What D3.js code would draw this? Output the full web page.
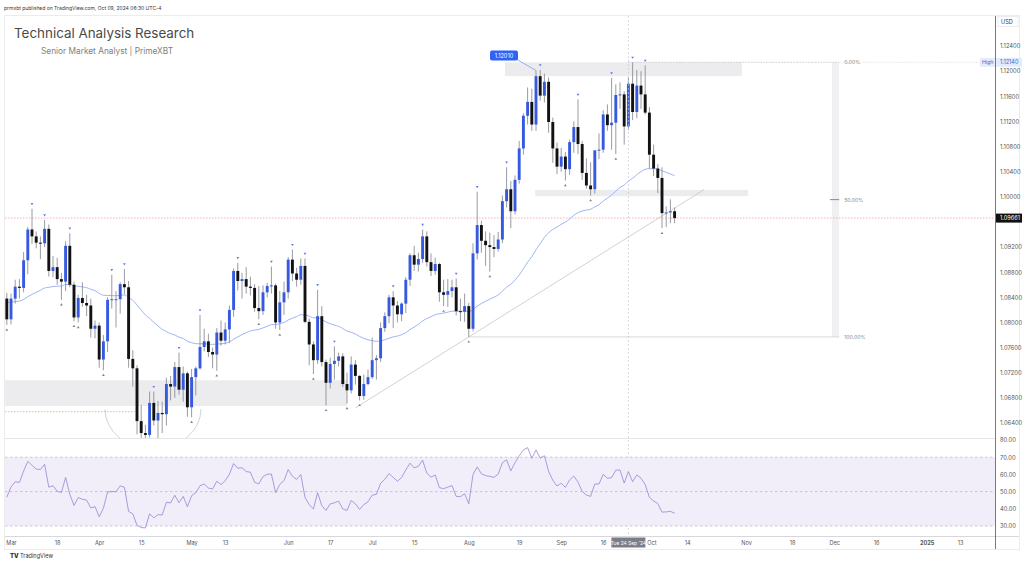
<!DOCTYPE html>
<html><head><meta charset="utf-8">
<script src="https://cdn.jsdelivr.net/npm/d3@7"></script>
<style>
body{margin:0;background:#fff;}
svg{display:block;font-family:Inter,"Noto Sans",Roboto,sans-serif;}
</style></head>
<body><svg id="c" width="1024" height="563"></svg>
<script>
// ---------- DATA (EUR/USD daily) ----------
const dates = ["02-29","03-01","03-04","03-05","03-06","03-07","03-08","03-11","03-12","03-13","03-14","03-15","03-18","03-19","03-20","03-21","03-22","03-25","03-26","03-27","03-28","03-29","04-01","04-02","04-03","04-04","04-05","04-08","04-09","04-10","04-11","04-12","04-15","04-16","04-17","04-18","04-19","04-22","04-23","04-24","04-25","04-26","04-29","04-30","05-01","05-02","05-03","05-06","05-07","05-08","05-09","05-10","05-13","05-14","05-15","05-16","05-17","05-20","05-21","05-22","05-23","05-24","05-27","05-28","05-29","05-30","05-31","06-03","06-04","06-05","06-06","06-07","06-10","06-11","06-12","06-13","06-14","06-17","06-18","06-19","06-20","06-21","06-24","06-25","06-26","06-27","06-28","07-01","07-02","07-03","07-04","07-05","07-08","07-09","07-10","07-11","07-12","07-15","07-16","07-17","07-18","07-19","07-22","07-23","07-24","07-25","07-26","07-29","07-30","07-31","08-01","08-02","08-05","08-06","08-07","08-08","08-09","08-12","08-13","08-14","08-15","08-16","08-19","08-20","08-21","08-22","08-23","08-26","08-27","08-28","08-29","08-30","09-02","09-03","09-04","09-05","09-06","09-09","09-10","09-11","09-12","09-13","09-16","09-17","09-18","09-19","09-20","09-23","09-24","09-25","09-26","09-27","09-30","10-01","10-02","10-03","10-04","10-07","10-08","10-09"];
const open = [1.0838,1.0805,1.0838,1.0857,1.0855,1.0899,1.0948,1.0937,1.0927,1.0926,
1.0949,1.0882,1.0888,1.0869,1.0865,1.0922,1.0860,1.0808,1.0839,1.0831,
1.0827,1.0790,1.0795,1.0741,1.0770,1.0836,1.0837,1.0837,1.0861,1.0856,
1.0742,1.0727,1.0643,1.0624,1.0621,1.0672,1.0644,1.0656,1.0654,1.0702,
1.0698,1.0729,1.0693,1.0719,1.0665,1.0713,1.0727,1.0761,1.0770,1.0753,
1.0749,1.0784,1.0771,1.0789,1.0820,1.0882,1.0866,1.0869,1.0857,1.0855,
1.0823,1.0818,1.0848,1.0858,1.0859,1.0800,1.0832,1.0848,1.0900,1.0878,
1.0868,1.0890,1.0801,1.0765,1.0740,1.0810,1.0737,1.0704,1.0734,1.0739,
1.0746,1.0702,1.0692,1.0733,1.0715,1.0683,1.0702,1.0713,1.0740,1.0743,
1.0791,1.0810,1.0840,1.0827,1.0813,1.0830,1.0868,1.0907,1.0892,1.0901,
1.0937,1.0896,1.0882,1.0893,1.0848,1.0844,1.0850,1.0856,1.0818,1.0817,
1.0826,1.0790,1.0910,1.0955,1.0930,1.0923,1.0920,1.0917,1.0932,1.0993,
1.1012,1.0977,1.1027,1.1077,1.1129,1.1151,1.1115,1.1192,1.1161,1.1183,
1.1119,1.1077,1.1048,1.1064,1.1044,1.1087,1.1111,1.1084,1.1038,1.1018,
1.1012,1.1074,1.1075,1.1131,1.1114,1.1118,1.1162,1.1163,1.1112,1.1180,
1.1135,1.1177,1.1163,1.1134,1.1067,1.1045,1.1030,1.0974,1.0975,1.0977];
const high = [1.0847,1.0846,1.0868,1.0869,1.0912,1.0952,1.0981,1.0945,1.0937,1.0963,
1.0956,1.0906,1.0903,1.0879,1.0929,1.0942,1.0865,1.0844,1.0864,1.0844,
1.0838,1.0803,1.0800,1.0780,1.0840,1.0876,1.0850,1.0864,1.0885,1.0866,
1.0756,1.0732,1.0669,1.0637,1.0690,1.0690,1.0675,1.0674,1.0712,1.0715,
1.0737,1.0752,1.0730,1.0722,1.0726,1.0730,1.0812,1.0790,1.0782,1.0760,
1.0791,1.0803,1.0800,1.0827,1.0886,1.0895,1.0879,1.0888,1.0873,1.0861,
1.0858,1.0859,1.0863,1.0889,1.0862,1.0850,1.0865,1.0904,1.0916,1.0887,
1.0902,1.0902,1.0806,1.0770,1.0852,1.0826,1.0741,1.0744,1.0762,1.0752,
1.0751,1.0720,1.0746,1.0740,1.0716,1.0717,1.0725,1.0776,1.0748,1.0800,
1.0816,1.0844,1.0850,1.0834,1.0832,1.0872,1.0910,1.0922,1.0911,1.0948,
1.0945,1.0910,1.0903,1.0895,1.0868,1.0869,1.0868,1.0870,1.0838,1.0846,
1.0831,1.0926,1.1008,1.0962,1.0945,1.0943,1.0939,1.0944,1.1002,1.1047,
1.1025,1.1034,1.1089,1.1133,1.1174,1.1172,1.1201,1.1202,1.1196,1.1190,
1.1126,1.1086,1.1078,1.1071,1.1091,1.1120,1.1155,1.1089,1.1061,1.1055,
1.1073,1.1101,1.1138,1.1147,1.1189,1.1179,1.1182,1.1168,1.1190,1.1214,
1.1202,1.1200,1.1209,1.1143,1.1083,1.1052,1.1047,1.0985,1.0996,1.0983];
const low = [1.0796,1.0797,1.0830,1.0838,1.0848,1.0877,1.0925,1.0918,1.0901,1.0920,
1.0873,1.0872,1.0860,1.0836,1.0850,1.0856,1.0802,1.0800,1.0825,1.0810,
1.0776,1.0775,1.0728,1.0724,1.0753,1.0822,1.0792,1.0814,1.0845,1.0728,
1.0698,1.0622,1.0615,1.0601,1.0617,1.0636,1.0610,1.0624,1.0636,1.0676,
1.0680,1.0685,1.0674,1.0650,1.0649,1.0684,1.0725,1.0754,1.0745,1.0727,
1.0723,1.0763,1.0765,1.0767,1.0809,1.0851,1.0838,1.0846,1.0843,1.0817,
1.0805,1.0812,1.0840,1.0846,1.0790,1.0788,1.0812,1.0838,1.0866,1.0857,
1.0860,1.0799,1.0732,1.0718,1.0734,1.0730,1.0668,1.0695,1.0709,1.0730,
1.0697,1.0671,1.0687,1.0701,1.0676,1.0677,1.0700,1.0710,1.0709,1.0737,
1.0785,1.0799,1.0791,1.0800,1.0802,1.0815,1.0858,1.0882,1.0881,1.0895,
1.0889,1.0874,1.0876,1.0833,1.0826,1.0825,1.0840,1.0811,1.0802,1.0801,
1.0777,1.0786,1.0900,1.0911,1.0890,1.0881,1.0904,1.0913,1.0926,1.0983,
1.0950,1.0972,1.1021,1.1067,1.1115,1.1105,1.1105,1.1153,1.1150,1.1102,
1.1054,1.1036,1.1040,1.1026,1.1035,1.1070,1.1068,1.1027,1.1013,1.1002,
1.1005,1.1060,1.1070,1.1105,1.1075,1.1068,1.1140,1.1083,1.1106,1.1122,
1.1125,1.1140,1.1131,1.1045,1.1033,1.1006,1.0950,1.0952,1.0958,1.0958];
const close = [1.0805,1.0838,1.0857,1.0855,1.0899,1.0948,1.0937,1.0927,1.0926,1.0949,
1.0882,1.0888,1.0869,1.0865,1.0922,1.0860,1.0808,1.0839,1.0831,1.0827,
1.0790,1.0795,1.0741,1.0770,1.0836,1.0837,1.0837,1.0861,1.0856,1.0742,
1.0727,1.0643,1.0624,1.0621,1.0672,1.0644,1.0656,1.0654,1.0702,1.0698,
1.0729,1.0693,1.0719,1.0665,1.0713,1.0727,1.0761,1.0770,1.0753,1.0749,
1.0784,1.0771,1.0789,1.0820,1.0882,1.0866,1.0869,1.0857,1.0855,1.0823,
1.0818,1.0848,1.0858,1.0859,1.0800,1.0832,1.0848,1.0900,1.0878,1.0868,
1.0890,1.0801,1.0765,1.0740,1.0810,1.0737,1.0704,1.0734,1.0739,1.0746,
1.0702,1.0692,1.0733,1.0715,1.0683,1.0702,1.0713,1.0740,1.0743,1.0791,
1.0810,1.0840,1.0827,1.0813,1.0830,1.0868,1.0907,1.0892,1.0901,1.0937,
1.0896,1.0882,1.0893,1.0848,1.0844,1.0850,1.0856,1.0818,1.0817,1.0826,
1.0790,1.0910,1.0955,1.0930,1.0923,1.0920,1.0917,1.0932,1.0993,1.1012,
1.0977,1.1027,1.1077,1.1129,1.1151,1.1115,1.1192,1.1161,1.1183,1.1119,
1.1077,1.1048,1.1064,1.1044,1.1087,1.1111,1.1084,1.1038,1.1018,1.1012,
1.1074,1.1075,1.1131,1.1114,1.1118,1.1162,1.1163,1.1112,1.1180,1.1135,
1.1177,1.1163,1.1134,1.1067,1.1045,1.1030,1.0974,1.0975,1.0977,1.09661];
// closes before the visible range (January/February), used only to warm up the RSI
const warmupCloses = [1.0942,1.0922,1.0946,1.0940,1.0950,1.0929,1.0972,1.0972,1.0951,1.0952,1.0877,1.0883,1.0874,1.0897,1.0884,1.0855,1.0884,1.0845,1.0852,1.0831,1.0845,1.0818,1.0873,1.0787,1.0742,1.0755,1.0773,1.0779,1.0784,1.0772,1.0708,1.0727,1.0772,1.0776,1.0777,1.0808,1.0822,1.0823,1.0820,1.0851,1.0844,1.0838];
const emaLength = 50, emaStart = 1.0832;   // EMA value on the first visible bar
const rsiLength = 14;
const priceTicks = [1.064,1.068,1.072,1.076,1.080,1.084,1.088,1.092,1.100,1.104,1.108,1.112,1.116,1.120,1.124];
const rsiTicks = [30,40,50,60,70,80];
const timeTickDates = ["2024-03-01","2024-03-18","2024-04-01","2024-04-15","2024-05-01","2024-05-13","2024-06-03","2024-06-17","2024-07-01","2024-07-15","2024-08-01","2024-08-19","2024-09-02","2024-09-16","2024-10-01","2024-10-14","2024-11-01","2024-11-18","2024-12-02","2024-12-16","2025-01-01","2025-01-13"];
const timeTickLabels = ["Mar","18","Apr","15","May","13","Jun","17","Jul","15","Aug","19","Sep","16","Oct","14","Nov","18","Dec","16","2025","13"];
const pivotHighDates = ["03-08","03-13","03-21","04-04","04-09","04-18","04-26","05-03","05-16","05-28","06-04","06-07","06-12","06-18","07-08","07-17","07-29","08-05","08-14","08-26","09-06","09-18","09-25","09-30"];
const pivotLowDates = ["02-29","03-19","03-22","03-25","04-02","05-01","05-09","05-23","05-30","06-11","06-14","06-21","06-26","07-24","08-01","08-08","09-03","09-11","09-19","10-04"];
const fibLevels = [0, 0.5, 1];
const fibLabels = ["0.00%","50.00%","100.00%"];
const fibHigh = 1.1214, fibLow = 1.0777;
const highOfRange = 1.1214;
const calloutPrice = 1.1201, calloutDate = "08-23";

// ---------- helpers ----------
function tIndex(s){
  const d0 = Date.UTC(2024,1,29);
  const [yy,mm,dd] = s.split('-').map(Number);
  const t = Date.UTC(yy,mm-1,dd);
  let n=0;
  for(let u=d0;u<t;u+=864e5){const wd=new Date(u).getUTCDay(); if(wd!==0&&wd!==6) n++;}
  return n;
}
const idxOf = d => tIndex('2024-'+d);
const bars = dates.map((d,i)=>({i:idxOf(d),o:open[i],h:high[i],l:low[i],c:close[i],d}));

// EMA
const ema=[]; let e=emaStart;
bars.forEach((b,k)=>{ if(k>0){const a=2/(emaLength+1); e=a*b.c+(1-a)*e;} ema.push({i:b.i,v:e}); });
// RSI (Wilder)
const all = warmupCloses.concat(close);
let ag=0, al=0; const rsiAll=[];
for(let k=1;k<all.length;k++){
  const ch=all[k]-all[k-1], g=Math.max(ch,0), l=Math.max(-ch,0);
  if(k<=rsiLength){ag+=g/rsiLength; al+=l/rsiLength; rsiAll[k]= k===rsiLength? 100-100/(1+ag/al):null;}
  else {ag=(ag*(rsiLength-1)+g)/rsiLength; al=(al*(rsiLength-1)+l)/rsiLength; rsiAll[k]=100-100/(1+ag/al);}
}
const rsi = bars.map((b,k)=>({i:b.i,v:rsiAll[warmupCloses.length+k]}));

// ---------- scales ----------
const svg = d3.select('#c');
const P = {l:5,r:995,t:16,b:438};
const R = {t:438,b:535};
const x = d3.scaleLinear().domain([0,227]).range([6.8,6.8+227*4.2]);
const y = d3.scaleLinear().domain([1.064,1.124]).range([423,46]);
const yr = d3.scaleLinear().domain([30,80]).range([526,440]);

const defs = svg.append('defs');
defs.append('clipPath').attr('id','cp').append('rect').attr('x',P.l).attr('y',P.t).attr('width',P.r-P.l).attr('height',P.b-P.t);
defs.append('clipPath').attr('id','cr').append('rect').attr('x',P.l).attr('y',R.t).attr('width',P.r-P.l).attr('height',R.b-R.t);

// header
svg.append('text').attr('x',4).attr('y',10).attr('font-size',5.0).attr('fill','#333')
  .text('prmxbt published on TradingView.com, Oct 09, 2024 06:30 UTC-4');
// frame
svg.append('rect').attr('x',4.5).attr('y',15.5).attr('width',1015).attr('height',534).attr('fill','none').attr('stroke','#ececec');

const gp = svg.append('g').attr('clip-path','url(#cp)');

// zones
const zones = [{i0:-0.4,i1:81,p0:1.0708,p1:1.0667},{i0:118.6,i1:175,p0:1.1214,p1:1.1192},{i0:125.8,i1:176.5,p0:1.1011,p1:1.1001}];
gp.selectAll('rect.zone').data(zones).join('rect').attr('class','zone')
  .attr('x',d=>x(d.i0)).attr('width',d=>x(d.i1)-x(d.i0))
  .attr('y',d=>y(d.p0)).attr('height',d=>y(d.p1)-y(d.p0)).attr('fill','#ececef');

// fib
const fibX0 = 110, fibX1 = 196, fibBandW = 1.7;
gp.append('rect').attr('x',x(fibX1)+2).attr('width',x(fibX1+fibBandW)-x(fibX1)).attr('y',y(fibHigh)).attr('height',y(fibLow)-y(fibHigh)).attr('fill','#f0f0f2');
fibLevels.forEach((lv,k)=>{
  const p = fibHigh - lv*(fibHigh-fibLow);
  gp.append('line').attr('x1',x(k===1?fibX1:(k===0?148:fibX0))).attr('x2',x(fibX1+fibBandW)+2).attr('y1',y(p)).attr('y2',y(p))
    .attr('stroke',k===1?'#888':'#d0d0d4').attr('stroke-width',k===1?1:0.8).attr('stroke-dasharray',k===0?'1.5,1.5':null);
  gp.append('text').attr('x',x(fibX1+fibBandW)+7).attr('y',y(p)+2).attr('font-size',5.2).attr('fill','#888').text(fibLabels[k]);
});

// dotted lines
gp.append('line').attr('x1',P.l).attr('x2',x(30.5)).attr('y1',y(1.0658)).attr('y2',y(1.0658)).attr('stroke','#e8a0a0').attr('stroke-width',0.8).attr('stroke-dasharray','1.5,1.5');
gp.append('line').attr('x1',P.l).attr('x2',P.r).attr('y1',y(close[close.length-1])).attr('y2',y(close[close.length-1])).attr('stroke','#f0a0a0').attr('stroke-width',0.8).attr('stroke-dasharray','1.5,1.5');

// trendline
const tA={i:83,p:1.0664}, tB={i:110,p:1.0777}, tEnd=166;
const slope=(tB.p-tA.p)/(tB.i-tA.i);
gp.append('line').attr('x1',x(tA.i)).attr('y1',y(tA.p)).attr('x2',x(tEnd)).attr('y2',y(tA.p+slope*(tEnd-tA.i)))
  .attr('stroke','#c4c6cc').attr('stroke-width',0.8);

// arc
const arcC={i:34.8,p:1.0662}, arcRX=48, arcRY=40;
gp.append('path').attr('d',()=>{const cx=x(arcC.i), cy=y(arcC.p); return `M${cx-arcRX},${cy} A${arcRX},${arcRY} 0 0 0 ${cx+arcRX},${cy}`;})
  .attr('fill','none').attr('stroke','#c4c6cc').attr('stroke-width',0.8);

// crosshair vertical
const crossIdx = tIndex('2024-09-24');
svg.append('line').attr('x1',x(crossIdx)).attr('x2',x(crossIdx)).attr('y1',P.t).attr('y2',536).attr('stroke','#c8c8cc').attr('stroke-width',0.7).attr('stroke-dasharray','2,2');

// EMA
gp.append('path').datum(ema).attr('d',d3.line().x(d=>x(d.i)).y(d=>y(d.v)).curve(d3.curveMonotoneX))
  .attr('fill','none').attr('stroke','#93aaf5').attr('stroke-width',0.9);

// candles
const cg = gp.append('g');
cg.selectAll('line.w').data(bars).join('line').attr('class','w')
  .attr('x1',d=>x(d.i)).attr('x2',d=>x(d.i)).attr('y1',d=>y(d.h)).attr('y2',d=>y(d.l)).attr('stroke','#8d9099').attr('stroke-width',0.9);
cg.selectAll('rect.b').data(bars).join('rect').attr('class','b')
  .attr('x',d=>x(d.i)-1.45).attr('width',2.9)
  .attr('y',d=>y(Math.max(d.o,d.c))).attr('height',d=>Math.max(1,Math.abs(y(d.o)-y(d.c))))
  .attr('fill',d=>d.c>=d.o?'#3659e0':'#121212');

// pivots
const byDate = new Map(bars.map(b=>[b.d,b]));
gp.selectAll('path.ph').data(pivotHighDates.map(d=>byDate.get(d))).join('path').attr('class','ph')
  .attr('d',d=>{const cx=x(d.i), cy=y(d.h)-4.5; return `M${cx-1.4},${cy-1.2}L${cx+1.4},${cy-1.2}L${cx},${cy+1}Z`;})
  .attr('fill','#5b7cf0');
gp.selectAll('path.pl').data(pivotLowDates.map(d=>byDate.get(d))).join('path').attr('class','pl')
  .attr('d',d=>{const cx=x(d.i), cy=y(d.l)+4.5; return `M${cx-1.4},${cy+1.2}L${cx+1.4},${cy+1.2}L${cx},${cy-1}Z`;})
  .attr('fill','#7d8089');

// callout label
const cb = byDate.get(calloutDate);
const bx = x(cb.i)-46, by = y(calloutPrice)-20;
svg.append('line').attr('x1',bx+27).attr('y1',by+9).attr('x2',x(cb.i)).attr('y2',y(calloutPrice)).attr('stroke','#7f9cf5').attr('stroke-width',0.8);
svg.append('rect').attr('x',bx).attr('y',by).attr('width',28).attr('height',10).attr('rx',2).attr('fill','#2f62f5');
svg.append('text').attr('x',bx+14).attr('y',by+7).attr('text-anchor','middle').attr('font-size',5.6).attr('fill','#fff').text(calloutPrice.toFixed(5));

// separators
svg.append('line').attr('x1',P.l).attr('x2',P.r).attr('y1',P.b+0.5).attr('y2',P.b+0.5).attr('stroke','#e6e6e8');
svg.append('line').attr('x1',P.l).attr('x2',1019).attr('y1',536.5).attr('y2',536.5).attr('stroke','#d8d8dc');
svg.append('line').attr('x1',P.r+0.5).attr('x2',P.r+0.5).attr('y1',P.t).attr('y2',549).attr('stroke','#555').attr('stroke-width',0.8);

// RSI pane
const gr = svg.append('g').attr('clip-path','url(#cr)');
gr.append('rect').attr('x',P.l).attr('width',P.r-P.l).attr('y',yr(70)).attr('height',yr(30)-yr(70)).attr('fill','#f1edf9');
[70,50,30].forEach(v=>gr.append('line').attr('x1',P.l).attr('x2',P.r).attr('y1',yr(v)).attr('y2',yr(v)).attr('stroke','#b7b3c2').attr('stroke-width',0.7).attr('stroke-dasharray','2.5,2.5'));
gr.append('path').datum(rsi).attr('d',d3.line().x(d=>x(d.i)).y(d=>yr(d.v))).attr('fill','none').attr('stroke','#9a84d4').attr('stroke-width',0.8);

// price axis
const ga = svg.append('g').attr('transform',`translate(${P.r},0)`)
  .call(d3.axisRight(y).tickValues(priceTicks).tickFormat(d3.format('.5f')).tickSize(0).tickPadding(5));
ga.select('.domain').remove();
ga.selectAll('text').attr('font-size',5.8).attr('fill','#555').attr('font-family','Inter,"Noto Sans",sans-serif');
const gra = svg.append('g').attr('transform',`translate(${P.r},0)`)
  .call(d3.axisRight(yr).tickValues(rsiTicks).tickFormat(d3.format('.2f')).tickSize(0).tickPadding(5));
gra.select('.domain').remove();
gra.selectAll('text').attr('font-size',5.8).attr('fill','#555').attr('font-family','Inter,"Noto Sans",sans-serif');

// USD tag
svg.append('rect').attr('x',998).attr('y',16.5).attr('width',20).attr('height',10).attr('fill','#fff').attr('stroke','#e2e2e6').attr('stroke-width',0.6);
svg.append('text').attr('x',1001).attr('y',23.5).attr('font-size',5.6).attr('fill','#333').text('USD');

// High label
svg.append('line').attr('x1',x(148)).attr('x2',P.r).attr('y1',y(highOfRange)).attr('y2',y(highOfRange)).attr('stroke','#c9c9cf').attr('stroke-width',0.6).attr('stroke-dasharray','1,1.5');
svg.append('rect').attr('x',980).attr('y',y(highOfRange)-4.5).attr('width',15).attr('height',9).attr('fill','#e3ebfd');
svg.append('text').attr('x',982).attr('y',y(highOfRange)+2).attr('font-size',5.2).attr('fill','#4a68c9').text('High');
svg.append('rect').attr('x',996).attr('y',y(highOfRange)-4.5).attr('width',26).attr('height',9).attr('fill','#e3ebfd');
svg.append('text').attr('x',1000).attr('y',y(highOfRange)+2).attr('font-size',5.6).attr('fill','#4a68c9').text(highOfRange.toFixed(5));

// last price label
const lp = close[close.length-1];
svg.append('rect').attr('x',996).attr('y',y(lp)-4.5).attr('width',26).attr('height',9).attr('fill','#111');
svg.append('text').attr('x',1000).attr('y',y(lp)+2).attr('font-size',5.6).attr('fill','#fff').text(lp.toFixed(5));

// time axis
const tIdx = timeTickDates.map(tIndex);
const gx = svg.append('g').attr('transform','translate(0,537)')
  .call(d3.axisBottom(x).tickValues(tIdx).tickFormat((d,k)=>timeTickLabels[k]).tickSize(0).tickPadding(4));
gx.select('.domain').remove();
gx.selectAll('text').attr('font-size',5.6).attr('fill','#555').attr('font-family','Inter,"Noto Sans",sans-serif')
  .attr('font-weight',(d,k)=>timeTickLabels[k]==='2025'?700:400)
  .attr('dx',(d,k)=>timeTickLabels[k]==='Oct'?2:0);

// crosshair date label
const cx0 = x(crossIdx);
svg.append('rect').attr('x',cx0-17).attr('y',537.5).attr('width',34).attr('height',10).attr('fill','#7b7e88');
svg.append('text').attr('x',cx0).attr('y',544.5).attr('text-anchor','middle').attr('font-size',4.9).attr('fill','#fff').text("Tue 24 Sep '24");

// titles
svg.append('text').attr('x',14).attr('y',38).attr('font-size',13.4).attr('fill','#4a4a4a').text('Technical Analysis Research');
svg.append('text').attr('x',41).attr('y',54).attr('font-size',8.3).attr('fill','#808080').text('Senior Market Analyst | PrimeXBT');

// footer
svg.append('text').attr('x',10).attr('y',558).attr('font-size',6).attr('font-weight',800).attr('fill','#222').text('TV');
svg.append('text').attr('x',20).attr('y',558).attr('font-size',5.6).attr('fill','#333').text('TradingView');
</script>
</body></html>
